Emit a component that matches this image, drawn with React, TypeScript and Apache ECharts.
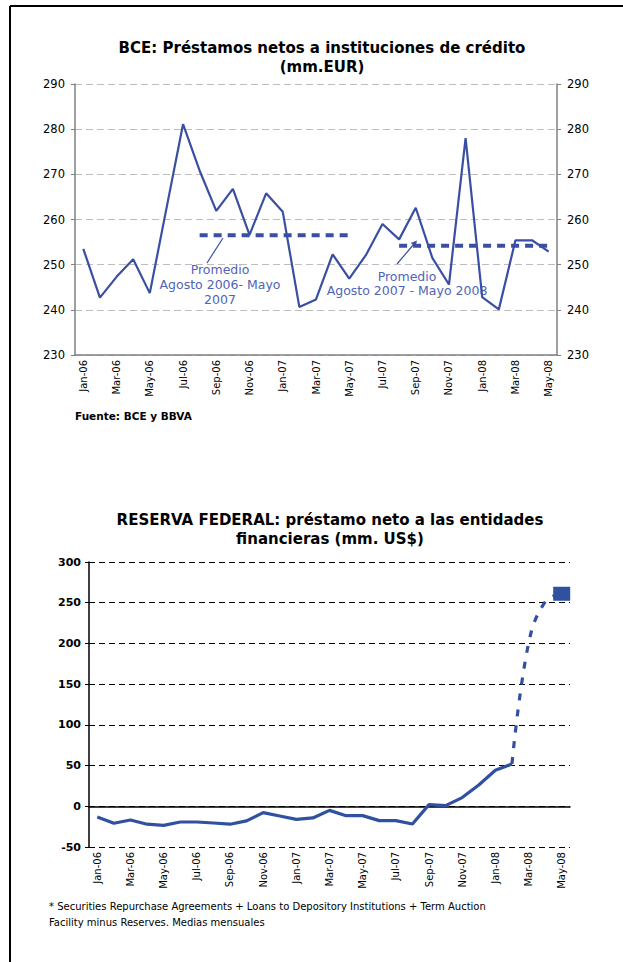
import React, { useEffect, useRef } from "react";
import * as echarts from "echarts";

const months = [
  "Jan-06", "Feb-06", "Mar-06", "Apr-06", "May-06", "Jun-06", "Jul-06", "Aug-06", "Sep-06", "Oct-06", "Nov-06", "Dec-06",
  "Jan-07", "Feb-07", "Mar-07", "Apr-07", "May-07", "Jun-07", "Jul-07", "Aug-07", "Sep-07", "Oct-07", "Nov-07", "Dec-07",
  "Jan-08", "Feb-08", "Mar-08", "Apr-08", "May-08",
];

const bceValues = [
  253.5, 242.7, 247.3, 251.2, 243.7, 262.4, 281.1, 270.8, 261.9, 266.8, 256.6, 265.8,
  261.7, 240.6, 242.3, 252.3, 246.9, 252.1, 259.0, 255.6, 262.6, 251.5, 245.6, 278.0,
  242.8, 240.1, 255.4, 255.4, 252.9,
];

const avgAug06May07 = 256.5;
const avgAug07May08 = 254.2;

const fedSolid = [
  -13.1, -20.9, -16.8, -22.0, -23.4, -19.3, -19.3, -20.5, -22.0, -18.0, -7.8, -11.9,
  -16.0, -14.3, -5.0, -11.5, -11.5, -17.6, -17.6, -21.7, 2.0, 0.8, 10.7, 26.2,
  44.3, 52.0,
];
const fedDashed = [52.0, 200, 251, 261];

const bceTicks = { min: 230, max: 290, interval: 10 };
const fedTicks = { min: -50, max: 300, interval: 50 };

const FONT = "DejaVu Sans";
const BLUE = "#3a4fa2";
const NOTE = "#5064b6";

export default function App() {
  const ref = useRef<HTMLDivElement>(null);
  useEffect(() => {
    if (!ref.current) return;
    const chart = echarts.init(ref.current, null, { renderer: "svg" });

    const avg1 = months.map((_, i) => (i >= 7 && i <= 16 ? avgAug06May07 : null));
    const avg2 = months.map((_, i) => (i >= 19 && i <= 28 ? avgAug07May08 : null));
    const fedSolidData = months.map((_, i) => (i < fedSolid.length ? fedSolid[i] : null));
    const dashStart = fedSolid.length - 1;
    const fedDashedData = months.map((_, i) => {
      const k = i - dashStart;
      if (k < 0 || k >= fedDashed.length) return null;
      if (k === fedDashed.length - 1) return { value: fedDashed[k], symbol: "rect", symbolSize: [17, 14] };
      return fedDashed[k];
    });

    const xLabel = { interval: 1, rotate: 90, fontSize: 10, color: "#000", fontFamily: FONT, margin: 5 };

    chart.setOption({
      animation: false,
      textStyle: { fontFamily: FONT },
      grid: [
        { left: 75, right: 66, top: 84, height: 271 },
        { left: 89, right: 53, top: 562, height: 285 },
      ],
      xAxis: [
        {
          gridIndex: 0, type: "category", data: months, boundaryGap: true,
          axisLine: { lineStyle: { color: "#808080", width: 1.5 } },
          axisTick: { interval: 1, length: 4, lineStyle: { color: "#808080" } },
          axisLabel: xLabel,
        },
        {
          gridIndex: 1, type: "category", data: months, boundaryGap: true, position: "bottom",
          axisLine: { onZero: true, lineStyle: { color: "#000", width: 1.5 } },
          axisTick: { interval: 0, length: 4, lineStyle: { color: "#000" } },
          axisLabel: { show: false },
        },
        {
          gridIndex: 1, type: "category", data: months, boundaryGap: true, position: "bottom",
          axisLine: { show: false, onZero: false },
          axisTick: { show: false },
          axisLabel: xLabel,
        },
      ],
      yAxis: [
        {
          gridIndex: 0, type: "value", position: "left", ...bceTicks,
          axisLine: { show: true, lineStyle: { color: "#808080", width: 1.5 } },
          axisTick: { show: true, length: 4, lineStyle: { color: "#808080" } },
          axisLabel: { fontSize: 11.5, color: "#000", margin: 10 },
          splitLine: { lineStyle: { color: "#bdbdbd", type: [7, 4], width: 1 } },
        },
        {
          gridIndex: 0, type: "value", position: "right", ...bceTicks,
          axisLine: { show: true, lineStyle: { color: "#808080", width: 1.5 } },
          axisTick: { show: true, length: 4, lineStyle: { color: "#808080" } },
          axisLabel: { fontSize: 11.5, color: "#000", margin: 10 },
          splitLine: { show: false },
        },
        {
          gridIndex: 1, type: "value", position: "left", ...fedTicks,
          axisLine: { show: true, onZero: false, lineStyle: { color: "#000", width: 1.5 } },
          axisTick: { show: true, length: 4, lineStyle: { color: "#000" } },
          axisLabel: { fontSize: 11, fontWeight: "bold", color: "#000", margin: 8 },
          splitLine: { lineStyle: { color: "#000", type: [6, 4], width: 1.2 } },
        },
      ],
      series: [
        {
          type: "line", xAxisIndex: 0, yAxisIndex: 0, data: bceValues, symbol: "none",
          lineStyle: { color: BLUE, width: 2.2 }, z: 3,
        },
        {
          type: "line", xAxisIndex: 0, yAxisIndex: 0, data: avg1, symbol: "none",
          lineStyle: { color: BLUE, width: 4, type: [8, 6] }, z: 2,
        },
        {
          type: "line", xAxisIndex: 0, yAxisIndex: 0, data: avg2, symbol: "none",
          lineStyle: { color: BLUE, width: 4, type: [8, 6] }, z: 2,
        },
        {
          type: "line", xAxisIndex: 1, yAxisIndex: 2, data: fedSolidData, symbol: "none",
          lineStyle: { color: "#3050a0", width: 3.2 }, z: 3,
        },
        {
          type: "line", xAxisIndex: 1, yAxisIndex: 2, data: fedDashedData, symbol: "none",
          smooth: 0.4, itemStyle: { color: "#3050a0" },
          lineStyle: { color: "#3050a0", width: 3.2, type: [7, 9] }, z: 3,
        },
      ],
      graphic: [
        { type: "line", shape: { x1: 10, y1: 6, x2: 623, y2: 6 }, style: { stroke: "#000", lineWidth: 2 } },
        { type: "line", shape: { x1: 10, y1: 6, x2: 10, y2: 962 }, style: { stroke: "#000", lineWidth: 2 } },
        {
          type: "text", x: 322, y: 38,
          style: { text: "BCE: Préstamos netos a instituciones de crédito\n(mm.EUR)", font: `bold 15px ${FONT}`, fill: "#000", align: "center", verticalAlign: "top", lineHeight: 19 },
        },
        {
          type: "text", x: 330, y: 510,
          style: { text: "RESERVA FEDERAL: préstamo neto a las entidades\nfinancieras (mm. US$)", font: `bold 15px ${FONT}`, fill: "#000", align: "center", lineHeight: 19, verticalAlign: "top" },
        },
        {
          type: "text", x: 220, y: 262,
          style: { text: "Promedio\nAgosto 2006- Mayo\n2007", font: `12.5px ${FONT}`, fill: NOTE, align: "center", verticalAlign: "top", lineHeight: 15 },
        },
        {
          type: "text", x: 407, y: 269,
          style: { text: "Promedio\nAgosto 2007 - Mayo 2008", font: `12.5px ${FONT}`, fill: NOTE, align: "center", verticalAlign: "top", lineHeight: 14.5 },
        },
        { type: "line", shape: { x1: 207, y1: 263, x2: 223, y2: 238 }, style: { stroke: BLUE, lineWidth: 1.2 } },
        { type: "line", shape: { x1: 397, y1: 264, x2: 414, y2: 244 }, style: { stroke: BLUE, lineWidth: 1.2 } },
        { type: "polygon", shape: { points: [[417, 240.5], [415.4, 247], [410.8, 243]] }, style: { fill: BLUE } },
        {
          type: "text", x: 75, y: 410,
          style: { text: "Fuente: BCE y BBVA", font: `bold 10.5px ${FONT}`, fill: "#000", verticalAlign: "top" },
        },
        {
          type: "text", x: 49, y: 898,
          style: { text: "* Securities Repurchase Agreements + Loans to Depository Institutions + Term Auction\nFacility minus Reserves. Medias mensuales", font: `10px ${FONT}`, fill: "#000", verticalAlign: "top", lineHeight: 16 },
        },
      ],
    });
    return () => chart.dispose();
  }, []);
  return <div ref={ref} style={{ position: "fixed", left: 0, top: 0, width: 623, height: 962, background: "#fff" }} />;
}
